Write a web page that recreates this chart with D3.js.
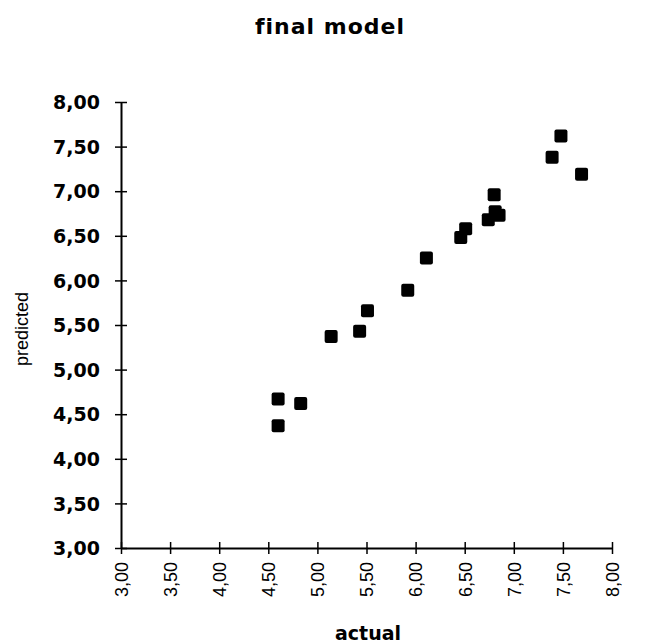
<!DOCTYPE html>
<html>
<head>
<meta charset="utf-8">
<script src="https://cdn.jsdelivr.net/npm/d3@7"></script>
<style>
  html, body { margin: 0; padding: 0; background: #fff; }
  svg { display: block; }
</style>
</head>
<body>
<svg id="chart" width="653" height="644"></svg>
<script>
// ---- data ----
const actual    = [4.60, 4.60, 4.83, 5.14, 5.43, 5.51, 5.92, 6.11, 6.46, 6.51, 6.74, 6.81, 6.85, 6.80, 7.39, 7.48, 7.69];
const predicted = [4.67, 4.37, 4.62, 5.37, 5.43, 5.66, 5.89, 6.25, 6.48, 6.58, 6.68, 6.77, 6.73, 6.96, 7.38, 7.62, 7.19];
const xTicks = [3.0, 3.5, 4.0, 4.5, 5.0, 5.5, 6.0, 6.5, 7.0, 7.5, 8.0];
const yTicks = [3.0, 3.5, 4.0, 4.5, 5.0, 5.5, 6.0, 6.5, 7.0, 7.5, 8.0];
const titleText = "final model";
const xLabel = "actual";
const yLabel = "predicted";

const fmt = v => v.toFixed(2).replace(".", ",");

const svg = d3.select("#chart");
const x = d3.scaleLinear().domain([3, 8]).range([121, 612]);
const y = d3.scaleLinear().domain([3, 8]).range([548, 102]);

// x axis
const xAxis = svg.append("g").attr("transform", `translate(0,${y(3)})`)
  .call(d3.axisBottom(x).tickValues(xTicks).tickSize(6).tickSizeOuter(0).tickFormat(fmt));
xAxis.select(".domain").attr("stroke", "#000").attr("stroke-width", 2);
xAxis.selectAll(".tick line").attr("y1", -6).attr("y2", 6).attr("stroke", "#000").attr("stroke-width", 1.5);
xAxis.selectAll(".tick text")
  .attr("transform", "rotate(-90)")
  .attr("x", -14).attr("y", 0).attr("dy", "0.35em")
  .attr("text-anchor", "end")
  .attr("font-family", "'Liberation Sans', Arial, sans-serif")
  .attr("font-size", 18).attr("fill", "#000");

// y axis
const yAxis = svg.append("g").attr("transform", `translate(${x(3)},0)`)
  .call(d3.axisLeft(y).tickValues(yTicks).tickSize(6).tickSizeOuter(0).tickFormat(fmt));
yAxis.select(".domain").attr("stroke", "#000").attr("stroke-width", 2);
yAxis.selectAll(".tick line").attr("x1", -6).attr("x2", 6).attr("stroke", "#000").attr("stroke-width", 1.5);
yAxis.selectAll(".tick text")
  .attr("x", -21).attr("dy", "0.35em")
  .attr("text-anchor", "end")
  .attr("font-family", "'DejaVu Sans', sans-serif")
  .attr("font-weight", "bold")
  .attr("font-size", 19).attr("fill", "#000");

// points
const pts = actual.map((a, i) => ({ a, p: predicted[i] }));
const s = 13;
svg.append("g").selectAll("rect").data(pts).join("rect")
  .attr("x", d => x(d.a) - s / 2)
  .attr("y", d => y(d.p) - s / 2)
  .attr("width", s).attr("height", s)
  .attr("rx", 2).attr("ry", 2)
  .attr("fill", "#000");

// title
svg.append("text").attr("x", 330).attr("y", 34)
  .attr("text-anchor", "middle")
  .attr("font-family", "'DejaVu Sans', sans-serif")
  .attr("font-weight", "bold").attr("font-size", 22)
  .attr("letter-spacing", 1)
  .text(titleText);

// x label
svg.append("text").attr("x", 368).attr("y", 640)
  .attr("text-anchor", "middle")
  .attr("font-family", "'DejaVu Sans', sans-serif")
  .attr("font-weight", "bold").attr("font-size", 19)
  .text(xLabel);

// y label
svg.append("text").attr("transform", "translate(28,329) rotate(-90)")
  .attr("text-anchor", "middle")
  .attr("font-family", "'Liberation Sans', Arial, sans-serif")
  .attr("font-size", 18)
  .text(yLabel);
</script>
</body>
</html>
